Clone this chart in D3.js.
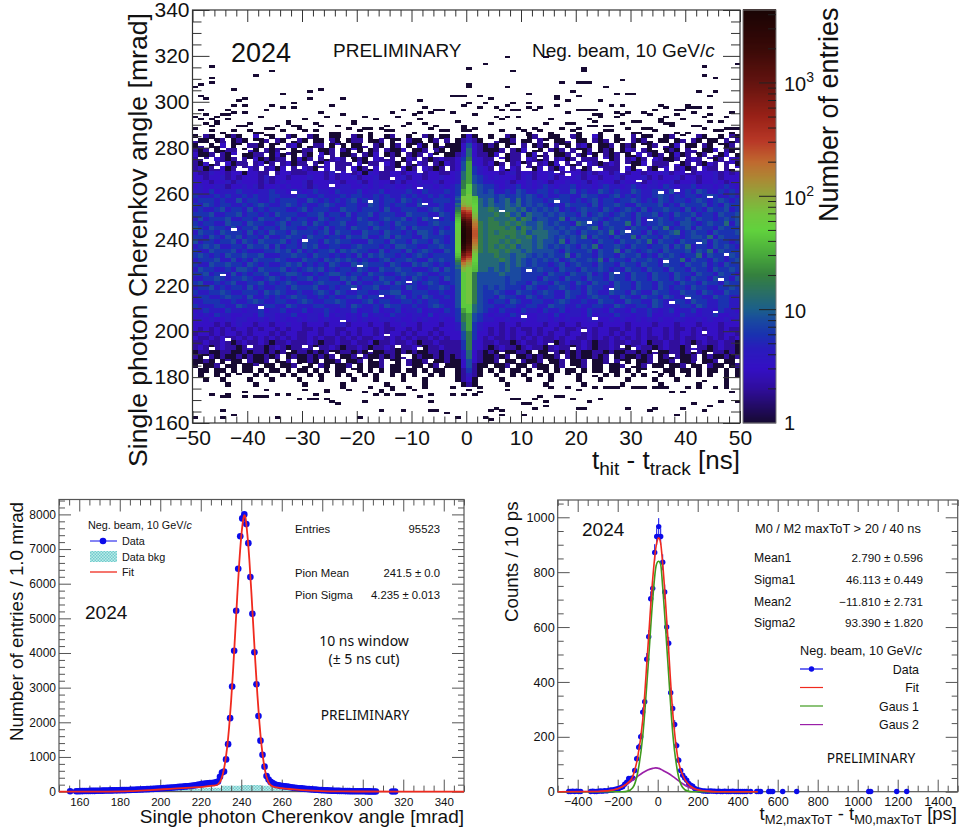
<!DOCTYPE html>
<html>
<head>
<meta charset="utf-8">
<script src="https://d3js.org/d3.v7.min.js"></script>
<style>
body{margin:0;background:#fff}
text{font-family:"Liberation Sans",Arial,sans-serif;fill:#111}
</style>
</head>
<body>
<div class="chart"></div>
<script>
// map: levels used in the row strings below
const heatLevels=[0,1,2,3,4,6,8,12,18,28,45,70,110]
const colorValues=[1,1.4,2,3,4.5,6,8,10,14,20,30,50,70,100,140,200,300,500,1000,2000,4400]
const colorStops=['#170a33','#230c66','#300e9c','#3510c4','#2a1cbc','#1a32b0','#1a4aa0','#1c5f8c','#2a6f66','#35803f','#48a83c','#62d23e','#72c53e','#8ea83c','#ab8a35','#c06a30','#b93a28','#9a2218','#641410','#3a0a08','#1a0505']

// dense band, one row per 2 mrad from 284 down to 176: t -50..-4 | t -3..3 | t 4..49
const heatRows=[
"10210012100301100210021001100210100120010021011|0013100|1002100120011002100310010020110012010021001021",
"21101201210112021012101102101220112011021101202|0124210|0211201102101120110212011021210110120210110212",
"12011301102210110231012201310112021012011310121|1136321|2101102012102110231011201210112021301102101120",
"21201122013102121011220112021310120211301120210|1137321|1120213011021202112012101320211012102201130211",
"31120213011220131210210312011202130121021203101|1247322|1301220131201120213102120113021201312012021301",
"22203212021312122013120212320121032220132021232|2358432|2031220321202312022203120231203211202320212032",
"21312031220231202312202130222031220321021320213|2369432|3120231202313021203212320211302220312021320231",
"23122312023202313022321230220312130221312032120|2369543|2031320213021302312032220313021230231203220213",
"32243323313322423322233324233231432233233423322|3479543|3323423323343233324233243233233342332233342323",
"33233423233324233233343323233423342233423323343|3479654|3433323423342333423323342333423233423323342333",
"43323342433324234333423334323342343324233433423|3489654|4334233434323343342343324334234334233423343233",
"34334423343423343433424334344334343443343344343|458a765|5434453434543445344345443454344354344534434543",
"44353444544344544354345443544453445344454354445|459a765|6445465445545446454465454465445546445465445454",
"54445454454544554445544544454554454544545445454|459b766|6565565654544554465544564545445654545545654454",
"45554544645544545554465454545645454554654544555|459b776|7567575655456554545645545565454654554565456545",
"54654554454565445654544565445544654545544654454|459b776|7667675656545465554645565446555645465556454655",
"45445645546454555445645554465545554644555445654|46ab877|8767767565656454565546545654645565546454655645",
"55564455645545465554455645546455645554465554465|46ab877|7878675766565655464565456546556454655645546556",
"46455564455465545645544654555465445655645465545|46ab877|8777868756655746555654565546455654556465545656",
"54554465546554456455646545564455654546555445655|56ab887|8878787667656554765546555746455655466545655746",
"65465546455645546554455464554655465545646555454|56ab887|8887868767665656556745655465546574556465546555",
"46554655546454655465554564655446554655454665465|56ab887|8788878677766565465565746555464556745655465556",
"55465465645546445655465545546556445646554465554|56ab887|8887877867765656574655465574655465545665746555",
"64554556465465556454655465655444655465546554654|56ab887|8878787767665746555465546556574655465556465545",
"45656445546556464554656445544565554546655445565|56ab887|8787867767656565465745565465545564657455465654",
"54465556454445565646454556465655446455464565446|56ab887|8878776766665465556465574654565465556465746555",
"56545465565564445565546554545464656554545654555|56ab877|7877677656565574655465546556454656545574655465",
"45556446454655565444655465656545445645565446565|56ab877|7787676565656456556574655465565465574655465456",
"54465565546545445656454546544656555465446565454|56ab877|7767676565545645655465546554655465546556454655",
"46554454665465556454565645455465446556554445646|56ab877|6767665656554655465565454655465546554655465565",
"55645546454556445665445456654554655445655654455|56ab866|6676665555465546556454655465546554655465546554",
"44556545565445654545564554465645546554546545546|56ab866|6665665554655465546554655465546554654655465546",
"56445456445564545654445655546454455646545456544|56ab866|6665655465546554654655465546554655465546554655",
"45564545546454455465556445455645564455465445565|46ab865|6565554654455654546554465546554654554655445565",
"54455654455546565445445654654455445566445554454|46ab865|5654465545654465546544655465446554465546544655",
"45544565546445454565544545445564554445645465445|46ab865|5465544654554465445655446544655465446554465544",
"44555445445654455445654455654445645544554545544|46ab865|4554654455445654454465544655446544554655445544",
"54445544654445544654445544454654454655445445654|46aa765|5445544554465544544554465445546544455465445544",
"34544354434453445344534454344534453445344534435|459a765|4354435443544534435443544354454345344534435443",
"43435443344354434453344353443435344354434435344|4589654|3443544334435344435344354434453344354434453344",
"34343343443343434334344343343434334434334343343|3589654|4334334334434343334433434334343433443343433434",
"33332323433233233433233323342333233233433233323|3479543|3323323333233233233323333233332333233323332333",
"32323232332323323233223233223323323223323233233|3479543|2323232232332322323233223232323323223232332322",
"23323233232333232332233233232323323233232332323|3368533|2323233232323323323233232332323323233232332332",
"32232322323232323232232322323232233232323223232|3368532|3223232323223233223232323232322323232233232323",
"22322321232232122322232122322322312232232122322|2258432|2322123223221232232122322322312232232123223221",
"23212322123221232122321223212232122321223212232|2258432|1232212322123221232122322123221232212322123221",
"12211221121221212112212121122121211221212112212|2247321|2121122121122121211221211221212112212121122121",
"21121211212112120121121212011212112121201211212|1247321|1212011212112021211212012112120121211201211212",
"11210121102112011201121011201120112011021120112|1136321|1201102112011201120112021101120112011201120110",
"10112011011201101120110210112010112011021101201|1136211|0112011021101201120110112011201101120110211012",
"01101101011010110101101010110110101011011010110|0125210|1010110101101011010110110101101011011010110101",
"01001010100101001010010100101001010010101001010|0124210|0100101001010010100101010010100101001010100101",
"00100100001000100001000100000100010000100010000|0123100|0010000100010000100010000100001000100001000100",
"00000010000100000000100000010000000100000010000|0012100|0001000000100000010000001000000100000010000100"]
const heatRowTop=284

// sparse single entries outside the dense band
const sparseT=[-47,-47,-47,-50,-49,-43,-39,-36,-29,-27,-29,-23,-34,-49,-48,-41,-42,-25,-32,-32,-34,-36,-37,-41,-41,-43,-43,-44,-45,-47,-46,-50,-48,-47,-44,-40,-38,-35,-33,-31,-30,-28,-26,-24,-21,-19,-17,-15,-13,-11,-9,-7,-12,-9,-8,-5,-9,-7,7,3,0,8,0,0,7,11,16,4,2,-3,-2,-1,16,11,11,8,7,13,-12,6,9,9,5,6,21,21,20,21,22,28,25,27,29,30,19,20,16,18,24,26,28,16,20,21,22,23,23,29,32,34,35,36,38,39,40,42,44,40,41,44,42,45,43,45,43,49,14,17,19,22,25,27,30,33,36,39,41,43,46,48,15,18,20,23,24,26,28,31,33,35,37,38,41,44,47,49,
-49,-46,-44,-42,-40,-37,-34,-31,-28,-25,-22,-20,-18,-16,-14,-10,-6,-4,-1,-1,-1,0,0,-1,2,3,5,8,10,12,13,15,17,19,22,24,26,29,31,34,37,40,43,46,48,-50,-47,-45,-41,-39,-36,-33,-30,-27,-24,-21,-18,-15,-12,-8,-5,-2,1,4,6,9,11,14,17,20,23,25,28,30,32,35,38,42,45,47,-48,-43,-38,-32,-27,-23,-19,-14,-10,-6,-3,1,7,12,18,24,27,33,36,41,44,48,
-50,-49,-48,-46,-45,-44,-44,-39,-38,-37,-35,-31,-28,-26,-25,-19,-17,-15,-13,-12,-9,-7,-7,-3,-41,-37,-26,-22,-16,-12,-7,-6,-4,-2,-50,-20,-45,-45,-43,-35,-37,-33,-30,-28,-26,-23,-19,-16,-16,-14,-14,-10,-1,0,-47,-41,-29,-24,-18,-11,-8,-3,
30,26,26,34,37,41,44,46,49,14,11,12,9,22,24,19,19,16,12,13,20,21,20,29,33,34,38,38,39,43,5,6,4,3,4,6,10,10,14,0,2,1,7,8,17,18,25,27,31,32,36,40,42,45,47,2,15,23,35,39,48]
const sparseA=[315,310,308,306,307,305,311,313,304,305,301,301,303,302,301,301,300,298,299,297,297,298,296,298,295,298,295,296,294,292,291,293,290,289,292,290,293,289,291,288,292,290,293,289,291,288,292,289,293,290,292,288,296,300,297,296,295,295,319,316,314,313,307,306,306,303,301,301,302,302,302,302,298,299,297,299,298,297,296,296,296,293,293,292,314,313,308,308,308,309,306,303,303,303,304,302,302,300,300,298,298,298,296,296,296,296,294,295,295,296,298,297,296,296,297,297,297,298,297,302,304,304,311,310,315,316,319,308,290,292,289,293,291,294,290,292,289,293,291,288,292,290,288,291,293,289,294,291,288,292,290,294,289,291,293,288,292,290,294,289,
287,288,287,289,287,286,288,287,286,288,287,286,289,287,288,287,289,287,299,298,297,299,297,296,287,288,287,286,288,287,289,286,287,288,286,287,289,286,288,287,286,288,287,286,289,286,288,290,287,289,286,290,288,287,289,290,287,291,288,290,287,288,286,290,288,286,289,287,290,286,288,291,286,289,287,288,290,287,286,289,295,294,293,295,294,296,295,294,293,296,295,294,295,294,293,295,294,295,293,296,294,293,
171,172,171,171,171,171,172,170,170,170,169,169,172,172,172,172,171,169,172,172,171,171,173,174,165,165,165,165,164,162,162,162,162,165,163,162,174,172,174,172,174,175,173,174,173,175,174,174,172,174,172,173,170,168,175,175,175,175,175,175,175,175,
173,168,167,169,169,169,168,166,170,169,170,170,170,171,170,171,174,166,166,166,165,166,163,163,166,165,166,163,161,162,165,165,163,168,167,174,173,172,174,170,171,175,175,175,175,175,175,175,175,175,175,175,175,175,175,173,173,173,173,173,173]

// holes of one bin inside the dense band
const holeT=[-46,-40,-33,-27,-22,-14,-9,8,13,19,24,31,38,44,-48,-36,-25,-18,-6,6,16,22,29,35,42,47,-43,-30,-20,-11,11,26,33,40,-38,-23,-15,10,21,37,45,-44,-28,-12,15,28,43,-35,-17,12,30,41,-42,-26,9,34,48,-32,-8,18,39,-45,-21,23,36,-16,27,46,
-50,-49,-47,-45,-44,-42,-41,-39,-37,-35,-34,-32,-31,-29,-28,-26,-24,-23,-21,-19,-17,-16,-13,-12,-10,-8,-7,-5,5,7,9,10,12,14,15,17,18,20,23,25,27,28,30,32,33,35,36,39,41,43,45,46,48,49,
-49,-47,-43,-40,-37,-33,-29,-26,-22,-19,-15,-10,-6,6,10,13,17,22,25,29,33,38,41,44,48,-46,-41,-36,-31,-27,-24,-18,-13,-9,7,11,16,20,24,28,31,35,40,46,49,
-48,-44,-39,-34,-30,-25,-20,-14,-11,-7,-5,5,8,14,19,26,30,34,37,42,47,-50,-42,-35,-28,-21,-16,-8,9,13,18,23,27,32,36,39,43,
-30,-18,6,19,34,-40,-25,-9,12,28,44,-47,-33,-13,15,30,41]
const holeA=[281,279,276,272,269,266,262,280,277,273,270,265,261,258,274,268,263,256,249,252,256,247,243,260,238,233,244,239,228,221,226,218,248,214,210,204,198,206,200,212,208,196,192,189,194,186,199,185,187,190,182,193,270,275,283,279,271,260,255,268,275,224,218,205,230,215,225,222,
283,281,282,279,283,280,278,282,284,280,278,283,279,281,277,282,280,283,278,281,284,279,282,277,280,283,278,281,283,278,281,284,279,282,277,280,283,278,281,284,279,282,277,280,283,278,281,284,279,282,277,280,283,278,
275,273,276,274,272,275,273,276,274,272,275,273,276,274,272,275,273,276,274,272,275,273,276,274,272,271,270,269,271,270,269,271,270,269,271,270,269,271,270,269,271,270,269,271,270,
188,186,184,187,185,183,189,186,184,187,185,183,189,186,184,187,185,183,189,186,184,182,180,181,179,182,180,181,179,182,180,181,179,182,180,181,179,
193,191,190,192,191,193,190,192,191,193,190,192,191,193,190,192,191]

// core of the ring signal, one value per mrad from 258 down to 226
const coreAngleTop=258
const coreMinus2=[8,10,7,12,9,14,18,24,30,38,42,46,50,52,54,56,58,60,60,60,58,56,54,52,48,42,36,26,20,14,10,12,8]
const coreMinus1=[70,75,80,90,110,200,350,500,700,1000,1500,2200,2800,3400,3800,4100,4300,4400,4300,4100,3800,3300,2700,2000,1400,900,600,400,260,170,120,90,80]
const core0=[60,65,70,75,90,140,250,350,500,700,1000,1300,1600,1900,2100,2300,2400,2400,2300,2100,1900,1600,1300,1000,700,500,320,220,150,110,90,70,65]
const corePlus1=[40,42,45,48,50,55,60,75,85,100,125,150,175,200,220,240,245,240,225,200,175,150,125,100,85,70,62,55,50,45,42,40,38]

// left histogram
const angleFirstBin=158.5
const angleCounts=[10,12,14,15,16,18,18,20,22,20,24,25,26,28,30,30,32,34,35,38,36,40,42,44,42,46,48,50,52,55,58,60,62,65,68,70,72,75,78,82,85,90,95,100,105,108,112,115,120,125,130,135,140,145,150,155,160,170,175,185,195,205,215,225,235,240,245,250,255,265,290,430,550,580,930,1370,2120,3030,4065,5220,6430,7370,7885,8000,7720,7170,6190,5130,4020,3100,2180,1470,1060,720,450,350,280,250,210,190,180,165,160,150,145,135,125,118,110,105,98,92,86,80,75,70,65,60,56,52,48,44,40,37,34,30,28,26,24,22,20,18,17,15,14,13,12,11,10,9,9,8,8,7,6,6,5,5,4]
const angleExtraX=[155.5,314.5,316]
const angleExtraY=[10,3,2]
const fitAngle=[150,170,185,195,205,215,222,226,228,229,230,231,232,233,234,235,236,237,238,239,240,241,241.5,242,243,244,245,246,247,248,249,250,251,252,253,254,255,256,260,270,280,290,300,320,350]
const fitCount=[0,2,15,45,80,115,145,170,190,240,340,530,830,1260,1850,2620,3540,4570,5620,6590,7360,7860,7980,7930,7430,6690,5750,4720,3700,2770,1970,1340,870,540,330,220,170,140,100,45,15,6,3,0,0]
const bkgAngle=[170,180,190,200,210,220,230,240,250,260,270,280,290,300,310]
const bkgCount=[5,15,30,50,80,110,170,190,170,120,60,30,15,8,3]

// right histogram
const timeBins=[-445,-435,-425,-415,-405,-395,-385,-335,-325,-315,-305,-295,-285,-275,-265,-255,-245,-235,-225,-215,-205,-195,-185,-175,-165,-155,-145,-135,-125,-115,-105,-95,-85,-75,-65,-55,-45,-35,-25,-15,-5,5,15,25,35,45,55,65,75,85,95,105,115,125,135,145,155,165,175,185,195,205,215,225,235,245,255,265,275,285,295,305,315,325,335,345,355,365,375,385,395,405,415,425,435,445,465,495,505,515,555,565,575,625,695,1055,1065,1195,1245]
const timeCounts=[1,1,2,1,2,1,1,1,2,1,1,2,3,2,4,3,5,6,6,8,10,12,15,18,27,35,48,48,50,77,120,162,200,290,328,483,565,703,741,872,930,966,930,836,728,600,541,361,303,245,168,115,77,60,50,42,30,24,20,12,8,6,5,3,3,2,2,3,2,2,1,2,1,1,2,1,1,1,2,1,1,1,1,1,1,1,1,1,1,1,1,1,1,1,1,1,1,1,1]
const timeErrors=[1,1,1,1,1,1,1,1,1,1,1,1,2,1,2,2,2,2,2,3,3,3,4,4,5,6,7,7,7,9,11,13,14,17,18,22,24,27,27,30,30,31,30,29,27,24,23,19,17,16,13,11,9,8,7,6,5,5,4,3,3,2,2,2,2,1,1,2,1,1,1,1,1,1,1,1,1,1,1,1,1,1,1,1,1,1,1,1,1,1,1,1,1,1,1,1,1,1,1]
const curveTime=[-500,-300,-250,-200,-175,-150,-125,-100,-75,-50,-25,-10,0,5,15,25,50,75,100,125,150,175,200,250,300,500]
const fitCurve=[0,1,3,11,19,32,55,126,260,515,775,885,920,925,905,830,570,290,125,60,30,15,7,2,0,0]
const gaus1Curve=[0,0,0,0,0,2,14,70,201,436,700,815,838,840,828,745,480,215,70,15,2,0,0,0,0,0]
const gaus2Curve=[0,1,3,11,19,29,42,56,69,79,85,87,86,85,82,78,68,56,42,29,18,11,6,1,0,0]

const heatYTicks=[160,180,200,220,240,260,280,300,320,340]
const heatXTicks=[-50,-40,-30,-20,-10,0,10,20,30,40,50]
const angleXTicks=[160,180,200,220,240,260,280,300,320,340]
const countYTicks=[0,1000,2000,3000,4000,5000,6000,7000,8000]
const timeXTicks=[-400,-200,0,200,400,600,800,1000,1200,1400]
const timeYTicks=[0,200,400,600,800,1000]

const svg=d3.select('.chart').append('svg')
	.attr('width',960)
	.attr('height',834)

const defs=svg.append('defs')
const hatch=defs.append('pattern')
	.attr('id','bkg')
	.attr('width',3)
	.attr('height',3)
	.attr('patternUnits','userSpaceOnUse')
hatch.append('rect').attr('width',3).attr('height',3).attr('fill','#bcebea')
hatch.append('rect').attr('width',1.5).attr('height',1.5).attr('fill','#72cccc')
hatch.append('rect').attr('x',1.5).attr('y',1.5).attr('width',1.5).attr('height',1.5).attr('fill','#72cccc')

function minorTicks(majors,step,domain){
	let out=[]
	for(let v=domain[0];v<=domain[1]+1e-6;v+=step){
		if(majors.indexOf(v)<0) out.push(v)
	}
	return out
}

function frame(g,x,y,xMajor,xStep,yMajor,yStep,opt){
	const [x0,x1]=x.range(),[y0,y1]=y.range()
	const xMinor=minorTicks(xMajor,xStep,x.domain())
	const yMinor=minorTicks(yMajor,yStep,y.domain())
	function tickSet(axis,scale,values,size,pos){
		const a=g.append('g')
			.attr('transform',pos)
			.call(axis(scale).tickValues(values).tickSize(size).tickFormat(''))
		a.select('.domain').remove()
		a.selectAll('line').attr('stroke',opt.color).attr('stroke-width',1)
	}
	tickSet(d3.axisBottom,x,xMajor,-opt.xMajor,`translate(0,${y0})`)
	tickSet(d3.axisBottom,x,xMinor,-opt.xMinor,`translate(0,${y0})`)
	tickSet(d3.axisTop,x,xMajor,-opt.xMajor,`translate(0,${y1})`)
	tickSet(d3.axisTop,x,xMinor,-opt.xMinor,`translate(0,${y1})`)
	tickSet(d3.axisLeft,y,yMajor,-opt.yMajor,`translate(${x0},0)`)
	tickSet(d3.axisLeft,y,yMinor,-opt.yMinor,`translate(${x0},0)`)
	tickSet(d3.axisRight,y,yMajor,-opt.yMajor,`translate(${x1},0)`)
	tickSet(d3.axisRight,y,yMinor,-opt.yMinor,`translate(${x1},0)`)
	g.append('rect')
		.attr('x',x0).attr('y',y1)
		.attr('width',x1-x0).attr('height',y0-y1)
		.attr('fill','none')
		.attr('stroke',opt.color)
		.attr('stroke-width',1.2)
	// numbers
	const xl=g.append('g')
		.attr('transform',`translate(0,${y0})`)
		.call(d3.axisBottom(x).tickValues(xMajor).tickSize(0).tickPadding(opt.xPad).tickFormat(d3.format('d')))
	xl.select('.domain').remove()
	xl.selectAll('text').attr('font-size',opt.xFont).attr('font-family','"Liberation Sans"')
	const yl=g.append('g')
		.attr('transform',`translate(${x0},0)`)
		.call(d3.axisLeft(y).tickValues(yMajor).tickSize(0).tickPadding(opt.yPad).tickFormat(d3.format('d')))
	yl.select('.domain').remove()
	yl.selectAll('text').attr('font-size',opt.yFont).attr('font-family','"Liberation Sans"')
}

function label(g,x,y,str,size,anchor,font){
	return g.append('text')
		.attr('x',x).attr('y',y)
		.attr('font-size',size)
		.attr('text-anchor',anchor||'start')
		.style('font-family',font||'"Liberation Sans"')
		.text(str)
}

function beamLabel(g,x,y,size,anchor){
	const t=label(g,x,y,'Neg. beam, 10 GeV/',size,anchor)
	t.append('tspan').style('font-style','italic').text('c')
}

// ---- top heat map
const heat=svg.append('g')
const tScale=d3.scaleLinear().domain([-50,50]).range([192.5,740])
const aScale=d3.scaleLinear().domain([160,340]).range([423,10])
const colorScale=d3.scaleLog().domain(colorValues).range(colorStops).clamp(true)

function cell(t,a,height,n){
	heat.append('rect')
		.attr('x',tScale(t))
		.attr('y',aScale(a+height))
		.attr('width',tScale(t+1)-tScale(t)+0.3)
		.attr('height',aScale(a)-aScale(a+height)+0.3)
		.attr('fill',n>0?colorScale(n):'#fff')
		.attr('shape-rendering','crispEdges')
}

heatRows.forEach((row,i)=>{
	const a=heatRowTop-2*i
	const parts=row.split('|')
	const put=(ch,t)=>{
		const n=heatLevels[parseInt(ch,16)]
		if(n>0) cell(t,a,2,n)
	}
	parts[0].split('').forEach((ch,j)=>put(ch,-4-(parts[0].length-1-j)))
	parts[1].split('').forEach((ch,j)=>put(ch,-3+j))
	parts[2].split('').forEach((ch,j)=>{if(4+j<50) put(ch,4+j)})
})
sparseT.forEach((t,i)=>cell(t,sparseA[i],1,1))
holeT.forEach((t,i)=>cell(t,holeA[i],1,0))
;[[-2,coreMinus2],[-1,coreMinus1],[0,core0],[1,corePlus1]].forEach(([t,values])=>{
	values.forEach((n,i)=>cell(t,coreAngleTop-i,1,n))
})

frame(heat,tScale,aScale,heatXTicks,2,heatYTicks,5,{color:'#333',xMajor:12,xMinor:6.5,yMajor:17,yMinor:9,xPad:7,yPad:3,xFont:21,yFont:21})

label(heat,231,62,'2024',27)
label(heat,333,57,'PRELIMINARY',19)
beamLabel(heat,532,57,19)

heat.append('text')
	.attr('transform','translate(147,467) rotate(-90)')
	.attr('font-size',26.6)
	.text('Single photon Cherenkov angle [mrad]')
const hx=label(heat,740,469,'t',26,'end')
hx.append('tspan').attr('font-size',19).attr('dy',6).text('hit')
hx.append('tspan').attr('dy',-6).text(' - t')
hx.append('tspan').attr('font-size',19).attr('dy',6).text('track')
hx.append('tspan').attr('dy',-6).text(' [ns]')

// colour bar
const barY=d3.scaleLog().domain([1,4400]).range([423,10])
const barSteps=d3.range(0,414).map(i=>barY.invert(423-i))
heat.selectAll('.bar')
	.data(barSteps)
	.enter()
	.append('rect')
	.attr('x',743)
	.attr('y',d=>barY(d)-1)
	.attr('width',33)
	.attr('height',1.4)
	.attr('fill',d=>colorScale(d))
heat.append('rect')
	.attr('x',743).attr('y',10).attr('width',33).attr('height',413)
	.attr('fill','none').attr('stroke','#777').attr('stroke-width',1)
const barMajor=[10,100,1000]
const barMinor=[2,3,4,5,6,7,8,9,20,30,40,50,60,70,80,90,200,300,400,500,600,700,800,900,2000,3000,4000]
heat.selectAll('.barTick')
	.data(barMajor.concat(barMinor))
	.enter()
	.append('line')
	.attr('x1',776)
	.attr('x2',d=>barMajor.indexOf(d)>=0?759:768)
	.attr('y1',d=>barY(d))
	.attr('y2',d=>barY(d))
	.attr('stroke','#222')
label(heat,784,430,'1',20)
label(heat,784,318,'10',20)
const b2=label(heat,784,205,'10',20)
b2.append('tspan').attr('font-size',14).attr('dy',-9).text('2')
const b3=label(heat,784,91,'10',20)
b3.append('tspan').attr('font-size',14).attr('dy',-9).text('3')
heat.append('text')
	.attr('transform','translate(838,222) rotate(-90)')
	.attr('font-size',27)
	.text('Number of entries')

// ---- lower left histogram
const left=svg.append('g')
const angleX=d3.scaleLinear().domain([150,350]).range([59,464])
const countY=d3.scaleLinear().domain([0,8430]).range([791.6,499.5])

const bkgArea=d3.area()
	.x((d,i)=>angleX(bkgAngle[i]))
	.y0(countY(0))
	.y1(d=>countY(d))
	.curve(d3.curveStepAfter)
left.append('path')
	.attr('d',bkgArea(bkgCount))
	.attr('fill','url(#bkg)')

frame(left,angleX,countY,angleXTicks,5,countYTicks,200,{color:'#555',xMajor:12,xMinor:6,yMajor:12,yMinor:6,xPad:6,yPad:3,xFont:11.5,yFont:12})

const anglePoints=angleCounts.map((c,i)=>({x:angleFirstBin+i,y:c}))
	.concat(angleExtraX.map((x,i)=>({x:x,y:angleExtraY[i]})))
left.selectAll('.pt')
	.data(anglePoints)
	.enter()
	.append('circle')
	.attr('cx',d=>angleX(d.x))
	.attr('cy',d=>countY(d.y))
	.attr('r',3.3)
	.attr('fill','#0b0bea')
left.append('path')
	.datum(fitCount)
	.attr('d',d3.line().x((d,i)=>angleX(fitAngle[i])).y(d=>countY(d)).curve(d3.curveMonotoneX))
	.attr('fill','none')
	.attr('stroke','#f02a1e')
	.attr('stroke-width',1.8)

beamLabel(left,88,529,10.8)
left.append('line').attr('x1',90).attr('x2',117).attr('y1',541).attr('y2',541).attr('stroke','#0b0bea')
left.append('circle').attr('cx',103).attr('cy',541).attr('r',3.3).attr('fill','#0b0bea')
left.append('rect').attr('x',90).attr('y',551).attr('width',27).attr('height',11).attr('fill','url(#bkg)')
left.append('line').attr('x1',90).attr('x2',117).attr('y1',572).attr('y2',572).attr('stroke','#f02a1e').attr('stroke-width',1.3)
label(left,122,545,'Data',10.8)
label(left,122,561,'Data bkg',10.8)
label(left,122,576,'Fit',10.8)
label(left,85,619,'2024',19)
label(left,295,533,'Entries',11.3)
label(left,440,533,'95523',11.3,'end')
label(left,295,577,'Pion Mean',11.3)
label(left,440,577,'241.5 ± 0.0',11.3,'end')
label(left,295,599,'Pion Sigma',11.3)
label(left,440,599,'4.235 ± 0.013',11.3,'end')
label(left,364,646,'10 ns window',14,'middle','"Noto Sans"')
label(left,364,664,'(± 5 ns cut)',14,'middle','"Noto Sans"')
label(left,365,720,'PRELIMINARY',13.7,'middle','"Noto Sans"')
left.append('text')
	.attr('transform','translate(23,741) rotate(-90)')
	.attr('font-size',18.8)
	.text('Number of entries / 1.0 mrad')
label(left,464,823,'Single photon Cherenkov angle [mrad]',19,'end')

// ---- lower right histogram
const right=svg.append('g')
const timeX=d3.scaleLinear().domain([-500,1500]).range([557.7,957.7])
const timeY=d3.scaleLinear().domain([0,1063]).range([791.7,500])

frame(right,timeX,timeY,timeXTicks,50,timeYTicks,50,{color:'#555',xMajor:12,xMinor:6,yMajor:12,yMinor:6,xPad:5,yPad:3,xFont:12.6,yFont:12.7})

right.selectAll('.err')
	.data(timeCounts)
	.enter()
	.append('line')
	.attr('x1',(d,i)=>timeX(timeBins[i]))
	.attr('x2',(d,i)=>timeX(timeBins[i]))
	.attr('y1',(d,i)=>timeY(d-timeErrors[i]))
	.attr('y2',(d,i)=>timeY(d+timeErrors[i]))
	.attr('stroke','#0b0bea')
right.selectAll('.pt')
	.data(timeCounts)
	.enter()
	.append('circle')
	.attr('cx',(d,i)=>timeX(timeBins[i]))
	.attr('cy',d=>timeY(d))
	.attr('r',2.7)
	.attr('fill','#0b0bea')

const timeLine=d3.line().x((d,i)=>timeX(curveTime[i])).y(d=>timeY(d)).curve(d3.curveMonotoneX)
;[[gaus2Curve,'#9a1fa8'],[gaus1Curve,'#3f9a1e'],[fitCurve,'#f02a1e']].forEach(([values,color])=>{
	right.append('path')
		.attr('d',timeLine(values))
		.attr('fill','none')
		.attr('stroke',color)
		.attr('stroke-width',1.6)
})

label(right,582,536,'2024',19)
label(right,755,533,'M0 / M2 maxToT > 20 / 40 ns',12.8)
const statNames=['Mean1','Sigma1','Mean2','Sigma2']
const statValues=['2.790 ± 0.596','46.113 ± 0.449','−11.810 ± 2.731','93.390 ± 1.820']
const statY=[562,584,606,627]
statNames.forEach((s,i)=>{
	label(right,754,statY[i],s,12.2)
	label(right,923,statY[i],statValues[i],11.7,'end')
})
beamLabel(right,922,655,12.7,'end')
const legendNames=['Data','Fit','Gaus 1','Gaus 2']
const legendColors=['#0b0bea','#f02a1e','#3f9a1e','#9a1fa8']
const legendY=[669,687.5,706,724.6]
legendNames.forEach((s,i)=>{
	right.append('line').attr('x1',800).attr('x2',823).attr('y1',legendY[i]).attr('y2',legendY[i]).attr('stroke',legendColors[i]).attr('stroke-width',1.2)
	label(right,919,legendY[i]+4.5,s,12.4,'end')
})
right.append('circle').attr('cx',811.5).attr('cy',669).attr('r',2.7).attr('fill','#0b0bea')
label(right,871,763,'PRELIMINARY',13.7,'middle','"Noto Sans"')
right.append('text')
	.attr('transform','translate(518,622) rotate(-90)')
	.attr('font-size',18.7)
	.text('Counts / 10 ps')
const rx=label(right,957,820,'t',18.5,'end')
rx.append('tspan').attr('font-size',13).attr('dy',4).text('M2,maxToT')
rx.append('tspan').attr('dy',-4).text(' - t')
rx.append('tspan').attr('font-size',13).attr('dy',4).text('M0,maxToT')
rx.append('tspan').attr('dy',-4).text(' [ps]')
</script>
</body>
</html>
